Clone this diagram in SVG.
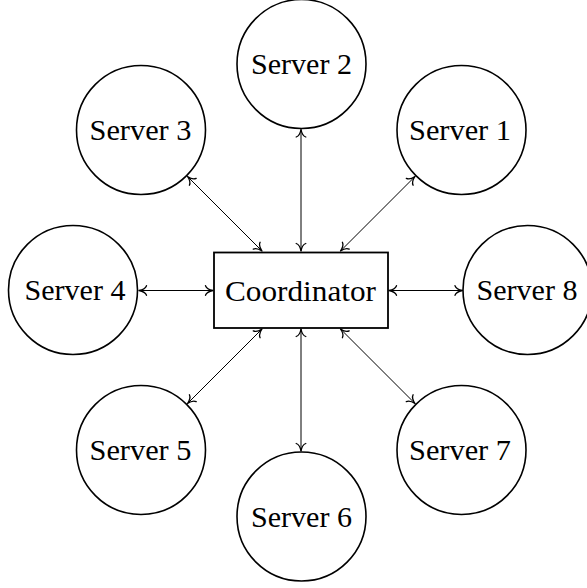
<svg xmlns="http://www.w3.org/2000/svg" width="587" height="588" viewBox="0 0 587 588">
<defs>
<marker id="arr" markerUnits="userSpaceOnUse" markerWidth="12" markerHeight="12" viewBox="-8 -6 10 12" refX="0" refY="0" orient="auto-start-reverse" overflow="visible">
<path d="M-7.5,-4.8 C-6.6,-2.1 -2.2,-0.4 0,0 C-2.2,0.4 -6.6,2.1 -7.5,4.8" fill="none" stroke="#000" stroke-width="1.3" stroke-linecap="round" stroke-linejoin="round"/>
</marker>
</defs>
<style>
.srv{fill:#fff;stroke:#000;stroke-width:1.6}
.box{fill:#fff;stroke:#000;stroke-width:1.8}
.lbl{font-family:"Liberation Serif","DejaVu Serif",serif;font-size:29px;fill:#000;text-anchor:middle}
.conn line{stroke:#000;stroke-width:1;marker-start:url(#arr);marker-end:url(#arr)}
</style>
<rect width="587" height="588" fill="#fff"/>
<g id="connectors" class="conn">
<line x1="301" y1="129.5" x2="301" y2="251"/>
<line x1="301" y1="329" x2="301" y2="451"/>
<line x1="139" y1="290.5" x2="213" y2="290.5"/>
<line x1="389" y1="290.5" x2="462.5" y2="290.5"/>
<line x1="187.5" y1="176.5" x2="262" y2="251"/>
<line x1="415" y1="176.5" x2="340.5" y2="251"/>
<line x1="187.5" y1="403.5" x2="262" y2="329"/>
<line x1="415" y1="403.5" x2="340.5" y2="329"/>
</g>
<g id="coordinator">
<rect class="box" x="214" y="252.5" width="174" height="75.5"/>
<text class="lbl" x="300.5" y="301" textLength="151" lengthAdjust="spacingAndGlyphs">Coordinator</text>
</g>
<g id="server1">
<circle class="srv" cx="461.5" cy="130" r="64.5"/>
<text class="lbl" x="460" y="140" textLength="102" lengthAdjust="spacingAndGlyphs">Server 1</text>
</g>
<g id="server2">
<circle class="srv" cx="301.5" cy="64" r="64.5"/>
<text class="lbl" x="301.5" y="74" textLength="101" lengthAdjust="spacingAndGlyphs">Server 2</text>
</g>
<g id="server3">
<circle class="srv" cx="141" cy="130" r="64.5"/>
<text class="lbl" x="140.5" y="140" textLength="102" lengthAdjust="spacingAndGlyphs">Server 3</text>
</g>
<g id="server4">
<circle class="srv" cx="73" cy="290" r="64.5"/>
<text class="lbl" x="75" y="300" textLength="101" lengthAdjust="spacingAndGlyphs">Server 4</text>
</g>
<g id="server5">
<circle class="srv" cx="141" cy="450" r="64.5"/>
<text class="lbl" x="140.5" y="460" textLength="102" lengthAdjust="spacingAndGlyphs">Server 5</text>
</g>
<g id="server6">
<circle class="srv" cx="301.5" cy="516.5" r="64.5"/>
<text class="lbl" x="301.5" y="526.5" textLength="101" lengthAdjust="spacingAndGlyphs">Server 6</text>
</g>
<g id="server7">
<circle class="srv" cx="461.5" cy="450" r="64.5"/>
<text class="lbl" x="460" y="460" textLength="102" lengthAdjust="spacingAndGlyphs">Server 7</text>
</g>
<g id="server8">
<circle class="srv" cx="527.5" cy="290" r="64.5"/>
<text class="lbl" x="527" y="300" textLength="101" lengthAdjust="spacingAndGlyphs">Server 8</text>
</g>
</svg>
